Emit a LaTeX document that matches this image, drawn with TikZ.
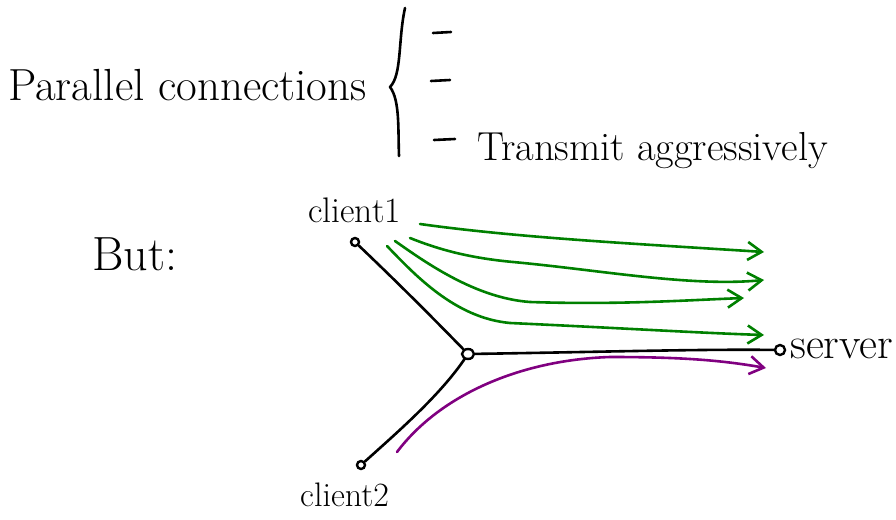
\documentclass[tikz,border=0pt]{standalone}
\usetikzlibrary{arrows.meta,shapes.geometric}
\begin{document}
\begin{tikzpicture}[x=1pt,y=-1pt,
  ink/.style={line width=2.6pt, line cap=round, line join=round},
  blk/.style={ink, black},
  garrow/.style={ink, draw={rgb,255:red,0;green,128;blue,0}, -{Straight Barb[length=14pt,width=18pt,line width=2.6pt]}},
  parrow/.style={ink, draw={rgb,255:red,128;green,0;blue,128}, -{Straight Barb[length=14pt,width=18pt,line width=2.6pt]}},
  hub/.style={circle, draw, line width=2.4pt, inner sep=0pt},
  txt/.style={inner sep=0pt, anchor=base west}]
\useasboundingbox (0,0) rectangle (896,519);

% texts
\node[txt] (t1) at (8,100) {\fontsize{45}{50}\selectfont Parallel connections};
\node[txt] (t2) at (477,160) {\fontsize{40.5}{45}\selectfont Transmit aggressively};
\node[txt] (t3) at (92,270) {\fontsize{48}{52}\selectfont But:};
\node[txt] (t4) at (308,222) {\fontsize{35.5}{40}\selectfont client1};
\node[txt] (t5) at (300,506) {\fontsize{34}{38}\selectfont client2};
\node[txt] (t6) at (790,358) {\fontsize{44}{48}\selectfont server};

% brace and dashes
\draw[blk] (405,8) .. controls (398,40) and (402,75) .. (390,87) .. controls (400,100) and (398,130) .. (399,156);
\draw[blk] (433,33) -- (451,32);
\draw[blk] (431,81) -- (450,80);
\draw[blk] (434,140) -- (455,139);

% network nodes
\node[hub, minimum size=8pt] (c1) at (355,242) {};
\node[hub, ellipse, minimum width=12pt, minimum height=10pt] (j) at (468,354) {};
\node[hub, minimum size=10pt] (srv) at (780,350) {};
\node[hub, minimum size=8pt] (c2) at (361,465) {};

\draw[blk] (c1) .. controls (395,280) and (430,315) .. (j);
\draw[blk] (j) .. controls (600,352) and (700,349) .. (srv);
\draw[blk] (j) .. controls (440,395) and (400,430) .. (c2);

% green flows
\coordinate (g1s) at (420,224); \coordinate (g1e) at (764,252);
\coordinate (g2s) at (410,238); \coordinate (g2e) at (764,280);
\coordinate (g3s) at (395,241); \coordinate (g3e) at (744,298);
\coordinate (g4s) at (387,246); \coordinate (g4e) at (764,335);
\draw[garrow] (g1s) .. controls (520,238) and (640,244) .. (g1e);
\draw[garrow] (g2s) .. controls (440,250) and (470,258) .. (513,262) .. controls (600,270) and (690,287) .. (g2e);
\draw[garrow] (g3s) .. controls (425,262) and (475,298) .. (530,302) .. controls (620,305) and (690,300) .. (g3e);
\draw[garrow] (g4s) .. controls (415,275) and (455,318) .. (510,323) .. controls (620,328) and (700,333) .. (g4e);

% purple flow
\coordinate (ps) at (397,452); \coordinate (pe) at (766,368);
\draw[parrow] (ps) .. controls (440,395) and (520,360) .. (610,357) .. controls (680,357) and (720,360) .. (pe);
\end{tikzpicture}
\end{document}
